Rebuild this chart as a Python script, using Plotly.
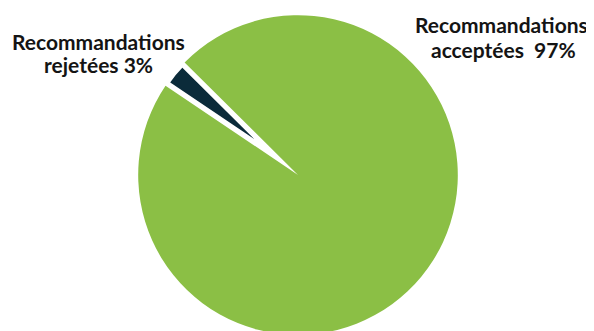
import plotly.graph_objects as go

labels = ["Recommandations rejetées", "Recommandations acceptées"]
values = [3, 97]
colors = ["#0b2b3a", "#8bbf45"]

W, H = 594, 330
OFF = 8  # page body margin
MR = 14
PW = W - MR

fig = go.Figure(go.Pie(
    labels=labels, values=values, sort=False, direction="clockwise",
    rotation=-56, textinfo="none", hoverinfo="label+percent",
    marker=dict(colors=colors, line=dict(color=["white", "white"], width=[10, 0])),
    pull=[0.02, 0], showlegend=False,
))

# per-line label positions (page pixels, centre of each line)
line_pos = [[(98.5, 41), (98.5, 64.5)], [(501.5, 24.5), (503.5, 49)]]
sep = [" ", "  "]
for lab, v, pos, s in zip(labels, values, line_pos, sep):
    first, rest = lab.split(" ", 1)
    lines = [first, f"{rest}{s}{v}%"]
    for txt, (x, y) in zip(lines, pos):
        fig.add_annotation(
            x=(x - OFF) / PW, y=1 - (y - OFF - 4) / (H - 4), xref="paper", yref="paper",
            text=txt, showarrow=False, xanchor="center", yanchor="middle",
            font=dict(family="Lato", size=21, color="#141414", weight="bold"),
        )

fig.update_layout(width=W, height=H, margin=dict(l=0, r=MR, t=4, b=0),
                  paper_bgcolor="white", plot_bgcolor="white")
fig.write_html("out.html")
